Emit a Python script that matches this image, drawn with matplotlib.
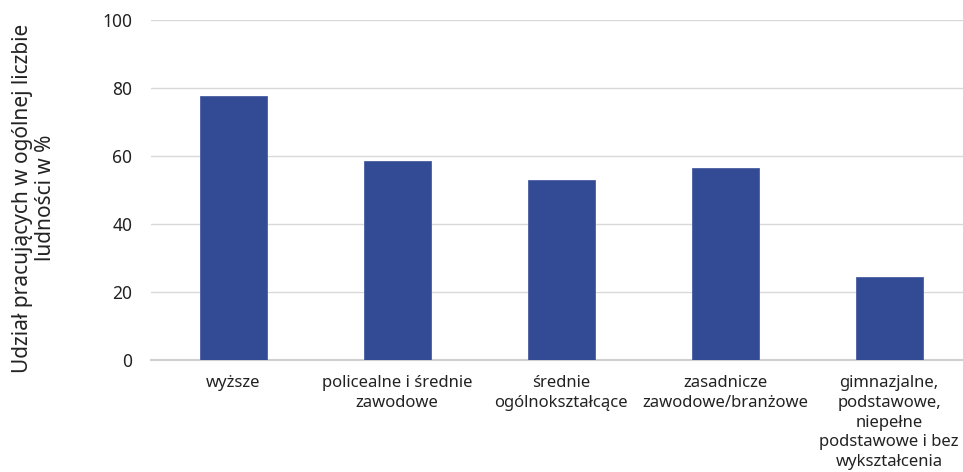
import matplotlib
matplotlib.use("Agg")
import matplotlib.pyplot as plt
import numpy as np

plt.rcParams['font.family'] = ['Noto Sans', 'DejaVu Sans']

categories = [
    "wyższe",
    "policealne i średnie\nzawodowe",
    "średnie\nogólnokształcące",
    "zasadnicze\nzawodowe/branżowe",
    "gimnazjalne,\npodstawowe,\nniepełne\npodstawowe i bez\nwykształcenia",
]
values = [77.7, 58.5, 53.0, 56.5, 24.5]
yticks = [0, 20, 40, 60, 80, 100]
bar_color = "#334a94"

fig = plt.figure(figsize=(9.63, 4.72), dpi=100)
ax = fig.add_axes([0.157, 0.237, 0.843, 0.721])

x = np.arange(len(categories))
ax.bar(x, values, width=0.41, color=bar_color, edgecolor="#4a5fa3", linewidth=0.6, zorder=3)

ax.set_ylim(0, 100)
ax.set_xlim(-0.5, 4.45)
ax.set_yticks(yticks)
ax.set_xticks(x)
ax.set_xticklabels(categories, fontsize=12, color="#222222", linespacing=1.3)
ax.tick_params(axis='y', labelsize=12.5, colors="#222222", length=0, pad=13.5)
ax.tick_params(axis='x', length=0, pad=11)
ax.yaxis.grid(True, color="#d9d9d9", linewidth=1, zorder=0)
for s in ["top", "right", "left"]:
    ax.spines[s].set_visible(False)
ax.spines["bottom"].set_color("#d0d0d0")
ax.spines["bottom"].set_linewidth(1.5)

fig.text(0.035, 0.58, "Udział pracujących w ogólnej liczbie\nludności w %",
         rotation=90, ha="center", va="center", fontsize=15, color="#222222",
         linespacing=1.15)

fig.savefig("out.png", dpi=100)
